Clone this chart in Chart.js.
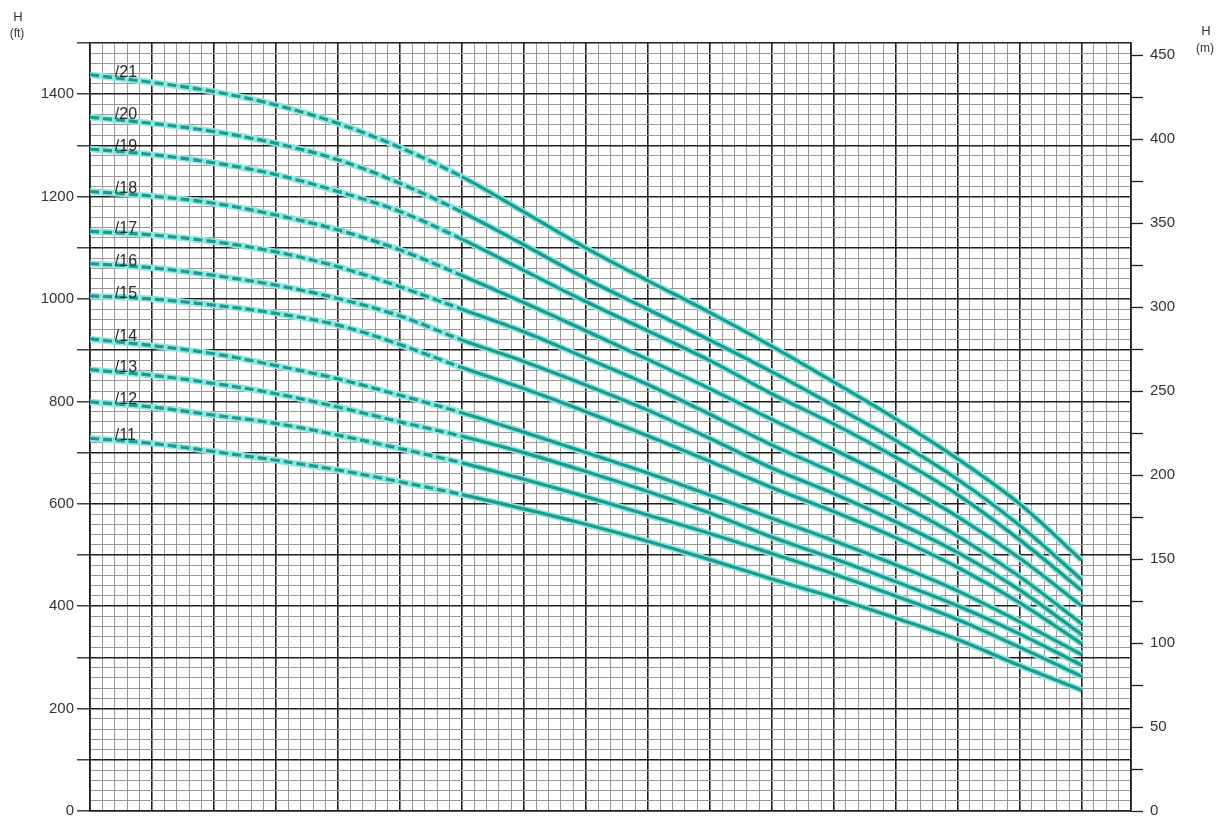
<!DOCTYPE html>
<html>
<head>
<meta charset="utf-8">
<script src="https://cdn.jsdelivr.net/npm/chart.js@4.4.1/dist/chart.umd.min.js"></script>
<style>
html,body{margin:0;padding:0;background:#fff;}
#wrap{width:1226px;height:818px;position:relative;}
</style>
</head>
<body>
<div id="wrap"><canvas id="c" width="1226" height="818"></canvas></div>
<script>
// Flow points (grid units, no labels on the x axis in the original)
const flow = [0,5,10,15,20,25,30,35,40,45,50,55,60,65,70,75,80];

// Head (ft) for each pump stage count
const h21 = [1438,1423,1405,1379,1343,1296,1239,1170,1100,1036,974,908,838,766,688,600,490];
const h20 = [1355,1343,1327,1304,1272,1226,1170,1106,1040,980,920,858,792,724,648,558,452];
const h19 = [1293,1282,1266,1243,1210,1171,1117,1056,995,938,880,815,756,691,618,530,431];
const h18 = [1210,1201,1187,1164,1135,1096,1046,993,938,882,825,765,706,645,575,494,401];
const h17 = [1132,1125,1112,1092,1063,1024,980,936,885,833,775,715,661,603,537,458,366];
const h16 = [1069,1061,1046,1027,1001,967,920,878,832,783,728,670,620,565,505,432,345];
const h15 = [1006,1000,988,972,949,911,866,825,780,733,683,632,585,534,476,407,327];
const h14 = [922,909,893,870,844,812,778,740,700,660,617,572,528,481,430,370,306];
const h13 = [862,851,835,815,789,760,732,700,663,624,582,535,493,448,401,346,285];
const h12 = [799,789,773,757,734,708,680,648,614,578,542,503,463,420,374,320,263];
const h11 = [728,718,702,685,666,643,618,590,560,527,491,453,417,377,335,284,236];

const stageNames = ['/21','/20','/19','/18','/17','/16','/15','/14','/13','/12','/11'];
const stageValues = [h21,h20,h19,h18,h17,h16,h15,h14,h13,h12,h11];

// Axis tick labels
const leftTickLabels = [0,200,400,600,800,1000,1200,1400];
const rightTickLabels = [0,50,100,150,200,250,300,350,400,450];

const FT_MAX = 1500;
const M_PER_FT = 0.3048;
const X_MAX = 84;
const DASH_END = 30;
const LABEL_AT = 2;

const TEAL = '#1c9a8c';
const HALO = '#92e6df';
const MAJOR = '#1e1e1e';
const MINOR = '#999999';
const TXT = '#333333';
const FONT = 'Liberation Sans';

const datasets = [];
stageNames.forEach((name, i) => {
  const pts = flow.map((q, k) => ({x: q, y: stageValues[i][k]}));
  datasets.push({
    label: name, data: pts, borderColor: TEAL, borderWidth: 3.2,
    pointRadius: 0, tension: 0.35, order: 0,
    borderCapStyle: 'butt',
    segment: { borderDash: c => (c.p0.parsed.x < DASH_END - 0.01 ? [9, 4] : []) }
  });
  datasets.push({
    label: name + ' halo', data: pts, borderColor: HALO, borderWidth: 6.5,
    pointRadius: 0, tension: 0.35, order: 1
  });
});

const textPlugin = {
  id: 'curveText',
  afterDatasetsDraw(chart) {
    const ctx = chart.ctx, xs = chart.scales.x, ys = chart.scales.y;
    ctx.save();
    ctx.fillStyle = '#2a2a2a';
    ctx.font = '16px "' + FONT + '"';
    ctx.textAlign = 'left';
    ctx.textBaseline = 'alphabetic';
    stageNames.forEach((name, i) => {
      const px = xs.getPixelForValue(LABEL_AT);
      const py = ys.getPixelForValue(stageValues[i][0]);
      ctx.fillText(name, px, py + 2);
    });
    ctx.fillStyle = TXT;
    ctx.textAlign = 'center';
    ctx.font = '13px "' + FONT + '"';
    ctx.fillText('H', 18, 21);
    ctx.fillText('H', 1206, 35);
    ctx.font = '12px "' + FONT + '"';
    ctx.fillText('(ft)', 17, 37);
    ctx.fillText('(m)', 1205, 52);
    ctx.restore();
  }
};

const isMajorX = v => (v % 5 === 0 || v === X_MAX);
const isMajorY = v => (v % 100 === 0);

new Chart(document.getElementById('c'), {
  type: 'line',
  data: { datasets },
  plugins: [textPlugin],
  options: {
    responsive: false,
    animation: false,
    devicePixelRatio: 1,
    layout: { padding: { top: 43, bottom: 7, left: 0, right: 0 } },
    plugins: { legend: { display: false }, tooltip: { enabled: false } },
    scales: {
      x: {
        type: 'linear', min: 0, max: X_MAX,
        ticks: { stepSize: 1, display: false, autoSkip: false },
        grid: {
          color: c => isMajorX(c.tick.value) ? MAJOR : MINOR,
          lineWidth: c => isMajorX(c.tick.value) ? 1.6 : 1,
          drawTicks: false
        },
        border: { display: true, color: MAJOR, width: 1.6 },
        afterFit: s => { s.height = 0; s.paddingLeft = 0; s.paddingRight = 0; }
      },
      y: {
        type: 'linear', position: 'left', min: 0, max: FT_MAX,
        ticks: {
          stepSize: 20, autoSkip: false, padding: 3, color: TXT,
          font: { family: FONT, size: 15 },
          callback: v => leftTickLabels.includes(v) ? String(v) : ''
        },
        grid: {
          color: c => isMajorY(c.tick.value) ? MAJOR : MINOR,
          lineWidth: c => isMajorY(c.tick.value) ? 1.6 : 1,
          tickLength: 13,
          tickColor: c => isMajorY(c.tick.value) ? MAJOR : 'rgba(0,0,0,0)',
          tickWidth: 1.3
        },
        border: { display: true, color: MAJOR, width: 1.6 },
        afterFit: s => { s.width = 90; s.paddingTop = 0; s.paddingBottom = 0; }
      },
      y2: {
        type: 'linear', position: 'right', min: 0, max: FT_MAX * M_PER_FT,
        ticks: {
          stepSize: 25, includeBounds: false, autoSkip: false, padding: 7, color: TXT,
          font: { family: FONT, size: 15 },
          callback: v => rightTickLabels.includes(v) ? String(v) : ''
        },
        grid: { drawOnChartArea: false, tickLength: 12, tickColor: MAJOR, tickWidth: 1.3 },
        border: { display: true, color: MAJOR, width: 1.6 },
        afterFit: s => { s.width = 95; s.paddingTop = 0; s.paddingBottom = 0; }
      }
    }
  }
});
</script>
</body>
</html>
